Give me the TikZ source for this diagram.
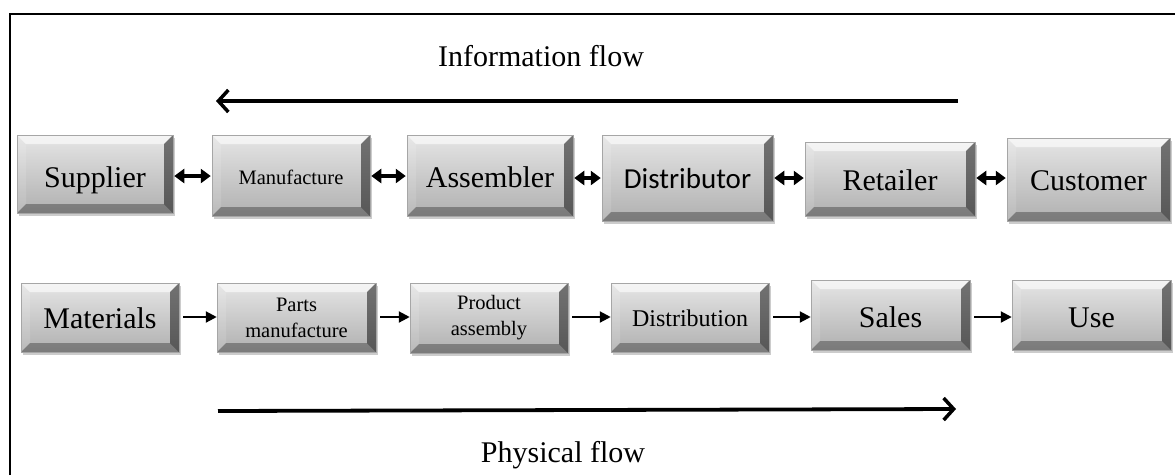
\documentclass[tikz,border=0pt]{standalone}
\usepackage{fontspec}
\setmainfont{Liberation Serif}
\newfontfamily\calibri{Carlito}
\usetikzlibrary{arrows.meta,shadows}
\tikzset{
  bevbox/.style={draw=gray!70, line width=0.5pt, top color=gray!20, bottom color=gray!62,
    inner sep=0pt, align=center, text=black,
    drop shadow={shadow xshift=2pt, shadow yshift=-2.5pt, opacity=0.4},
    path picture={
      \path (path picture bounding box.north west) coordinate (pA)
            (path picture bounding box.north east) coordinate (pB)
            (path picture bounding box.south east) coordinate (pC)
            (path picture bounding box.south west) coordinate (pD);
      \fill[white,opacity=0.6] (pA) -- (pB) -- ([shift={(-9pt,-9pt)}]pB) -- ([shift={(9pt,-9pt)}]pA) -- cycle;
      \fill[white,opacity=0.12] (pA) -- ([shift={(9pt,-9pt)}]pA) -- ([shift={(9pt,9pt)}]pD) -- (pD) -- cycle;
      \fill[black,opacity=0.5] (pB) -- (pC) -- ([shift={(-9pt,9pt)}]pC) -- ([shift={(-9pt,-9pt)}]pB) -- cycle;
      \fill[black,opacity=0.3] (pD) -- (pC) -- ([shift={(-9pt,9pt)}]pC) -- ([shift={(9pt,9pt)}]pD) -- cycle;
    }},
  oneline/.style={text height=#1, text depth=0pt},
  bigfont/.style={font=\fontsize{30}{33}\selectfont},
  smallfont/.style={font=\fontsize{20.5}{26}\selectfont},
  dbl/.style={{Triangle[length=10pt,width=14pt]}-{Triangle[length=10pt,width=14pt]}, line width=3.5pt, shorten <=1pt, shorten >=1pt},
  sgl/.style={-{Triangle[length=11pt,width=11pt]}, line width=2.2pt, shorten <=4pt},
  flow/.style={-{Straight Barb[length=10pt,width=22pt,line width=3.5pt]}, line width=3.8pt},
  frame/.style={line width=1.8pt}
}
\begin{document}
\begin{tikzpicture}[x=1pt,y=-1pt]
\useasboundingbox (0,0) rectangle (1175,475);
% frame
\coordinate (fb) at (10,475);
\coordinate (fc) at (10,14);
\coordinate (fr) at (1175,14);
\draw[frame] (fb) -- (fc) -- (fr);

% information flow
\node[bigfont] (infotxt) at (541,56) {Information flow};
\coordinate (infoR) at (958,101);
\coordinate (infoL) at (216,101);
\draw[flow] (infoR) -- (infoL);

% top row
\node[bevbox, oneline=26pt, bigfont, minimum width=156pt, minimum height=78pt] (sup) at (95,174) {Supplier};
\node[bevbox, oneline=17pt, font=\fontsize{20.5}{23}\selectfont, minimum width=158pt, minimum height=81pt] (man) at (291,175.5) {Manufacture};
\node[bevbox, oneline=23pt, bigfont, minimum width=166pt, minimum height=81pt] (asm) at (490,175.5) {Assembler};
\node[bevbox, oneline=20.5pt, font=\calibri\fontsize{29}{32}\selectfont, minimum width=171pt, minimum height=86pt] (dis) at (687.5,178) {Distributor};
\node[bevbox, oneline=22pt, bigfont, minimum width=170pt, minimum height=74pt] (ret) at (890,179) {Retailer};
\node[bevbox, oneline=21pt, bigfont, minimum width=163pt, minimum height=83pt] (cus) at (1088.5,179.5) {Customer};

\draw[dbl] (sup.east |- 0,176) -- (man.west |- 0,176);
\draw[dbl] (man.east |- 0,176) -- (asm.west |- 0,176);
\draw[dbl] (asm.east |- 0,178) -- (dis.west |- 0,178);
\draw[dbl] (dis.east |- 0,178) -- (ret.west |- 0,178);
\draw[dbl] (ret.east |- 0,178) -- (cus.west |- 0,178);

% bottom row
\node[bevbox, oneline=21pt, bigfont, minimum width=158pt, minimum height=69pt] (mat) at (100,317.5) {Materials};
\node[bevbox, smallfont, minimum width=159pt, minimum height=69pt] (par) at (296.5,317.5) {Parts\\manufacture};
\node[bevbox, smallfont, minimum width=158pt, minimum height=70pt] (pro) at (489,318) {Product\\assembly};
\node[bevbox, oneline=17pt, font=\fontsize{24}{27}\selectfont, minimum width=158pt, minimum height=69pt] (dtn) at (690,317.5) {Distribution};
\node[bevbox, oneline=24pt, bigfont, minimum width=159pt, minimum height=70pt] (sal) at (890.5,315) {Sales};
\node[bevbox, oneline=24pt, bigfont, minimum width=159pt, minimum height=70pt] (use) at (1091.5,315) {Use};

\draw[sgl] (mat.east |- 0,317) -- (par.west |- 0,317);
\draw[sgl] (par.east |- 0,317) -- (pro.west |- 0,317);
\draw[sgl] (pro.east |- 0,317) -- (dtn.west |- 0,317);
\draw[sgl] (dtn.east |- 0,317) -- (sal.west |- 0,317);
\draw[sgl] (sal.east |- 0,317) -- (use.west |- 0,317);

% physical flow
\coordinate (phyL) at (218,411);
\coordinate (phyR) at (956,409);
\draw[flow] (phyL) -- (phyR);
\node[bigfont] (phytxt) at (563,455) {Physical flow};
\end{tikzpicture}
\end{document}
